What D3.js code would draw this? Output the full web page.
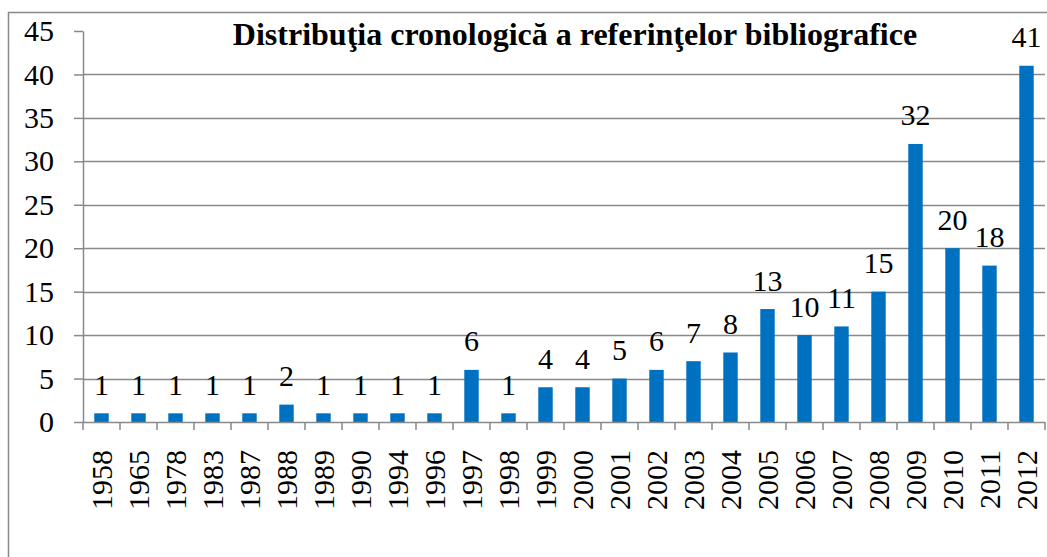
<!DOCTYPE html>
<html>
<head>
<meta charset="utf-8">
<script src="https://cdn.jsdelivr.net/npm/d3@7"></script>
<style>
  body { margin: 0; background: #fff; }
  svg { display: block; }
</style>
</head>
<body>
<div id="chart"></div>
<script>
const years = ["1958","1965","1978","1983","1987","1988","1989","1990","1994","1996","1997","1998","1999","2000","2001","2002","2003","2004","2005","2006","2007","2008","2009","2010","2011","2012"];
const counts = [1,1,1,1,1,2,1,1,1,1,6,1,4,4,5,6,7,8,13,10,11,15,32,20,18,41];
const yTicks = [0,5,10,15,20,25,30,35,40,45];
const title = "Distribuţia cronologică a referinţelor bibliografice";

const width = 1047, height = 557;
const plot = { left: 83, right: 1045, top: 31, bottom: 422 };
const gridColor = "#898989";
const barColor = "#0070c0";
const serif = "Liberation Serif";

const svg = d3.select("#chart").append("svg")
    .attr("width", width)
    .attr("height", height)
    .attr("font-family", serif);

// outer frame, only left and top edges fall inside the picture
svg.append("rect")
    .attr("x", 8.5).attr("y", 12.5)
    .attr("width", 1100).attr("height", 600)
    .attr("fill", "none")
    .attr("stroke", gridColor)
    .attr("stroke-width", 1.5);

const x = d3.scaleBand()
    .domain(years)
    .range([plot.left, plot.right])
    .paddingInner(0.61)
    .paddingOuter(0.305);

const y = d3.scaleLinear()
    .domain([0, 45])
    .range([plot.bottom, plot.top]);

// gridlines
svg.append("g")
    .selectAll("line")
    .data(yTicks.filter(t => t > 0 && t < 45))
    .enter()
    .append("line")
    .attr("x1", plot.left).attr("x2", plot.right)
    .attr("y1", d => Math.round(y(d)) + 0.5)
    .attr("y2", d => Math.round(y(d)) + 0.5)
    .attr("stroke", gridColor)
    .attr("stroke-width", 1.5);

// y axis
const yAxis = svg.append("g")
    .attr("transform", `translate(${plot.left},0)`)
    .call(d3.axisLeft(y).tickValues(yTicks).tickSize(9).tickPadding(20).tickSizeOuter(0));
yAxis.attr("font-family", serif).attr("font-size", 30);
yAxis.select(".domain").attr("stroke", gridColor).attr("stroke-width", 1.5);
yAxis.selectAll(".tick line").attr("stroke", gridColor).attr("stroke-width", 1.5);
yAxis.selectAll(".tick text")
    .attr("fill", "#000")
    .attr("font-family", serif)
    .attr("font-size", 30);

// bars
svg.append("g")
    .selectAll("rect")
    .data(counts)
    .enter()
    .append("rect")
    .attr("x", (d, i) => x(years[i]))
    .attr("y", d => y(d))
    .attr("width", x.bandwidth())
    .attr("height", d => y(0) - y(d))
    .attr("fill", barColor);

// value labels
svg.append("g")
    .selectAll("text")
    .data(counts)
    .enter()
    .append("text")
    .attr("x", (d, i) => x(years[i]) + x.bandwidth() / 2)
    .attr("y", d => y(d) - 18.5)
    .attr("text-anchor", "middle")
    .attr("font-family", serif)
    .attr("font-size", 30)
    .text(d => d);

// x axis
const xAxisG = svg.append("g");
xAxisG.append("line")
    .attr("x1", plot.left).attr("x2", plot.right)
    .attr("y1", plot.bottom + 0.5).attr("y2", plot.bottom + 0.5)
    .attr("stroke", gridColor).attr("stroke-width", 1.5);
const step = x.step();
xAxisG.selectAll("line.tk")
    .data(d3.range(years.length + 1))
    .enter()
    .append("line")
    .attr("class", "tk")
    .attr("x1", i => plot.left + i * step)
    .attr("x2", i => plot.left + i * step)
    .attr("y1", plot.bottom)
    .attr("y2", plot.bottom + 8)
    .attr("stroke", gridColor).attr("stroke-width", 1.5);

xAxisG.selectAll("text")
    .data(years)
    .enter()
    .append("text")
    .attr("transform", d => `translate(${x(d) + x.bandwidth() / 2 + 10},450) rotate(-90)`)
    .attr("text-anchor", "end")
    .attr("font-family", serif)
    .attr("font-size", 30)
    .text(d => d);

// title
svg.append("text")
    .attr("x", 575)
    .attr("y", 45)
    .attr("text-anchor", "middle")
    .attr("font-family", serif)
    .attr("font-size", 32)
    .attr("font-weight", "bold")
    .text(title);
</script>
</body>
</html>
